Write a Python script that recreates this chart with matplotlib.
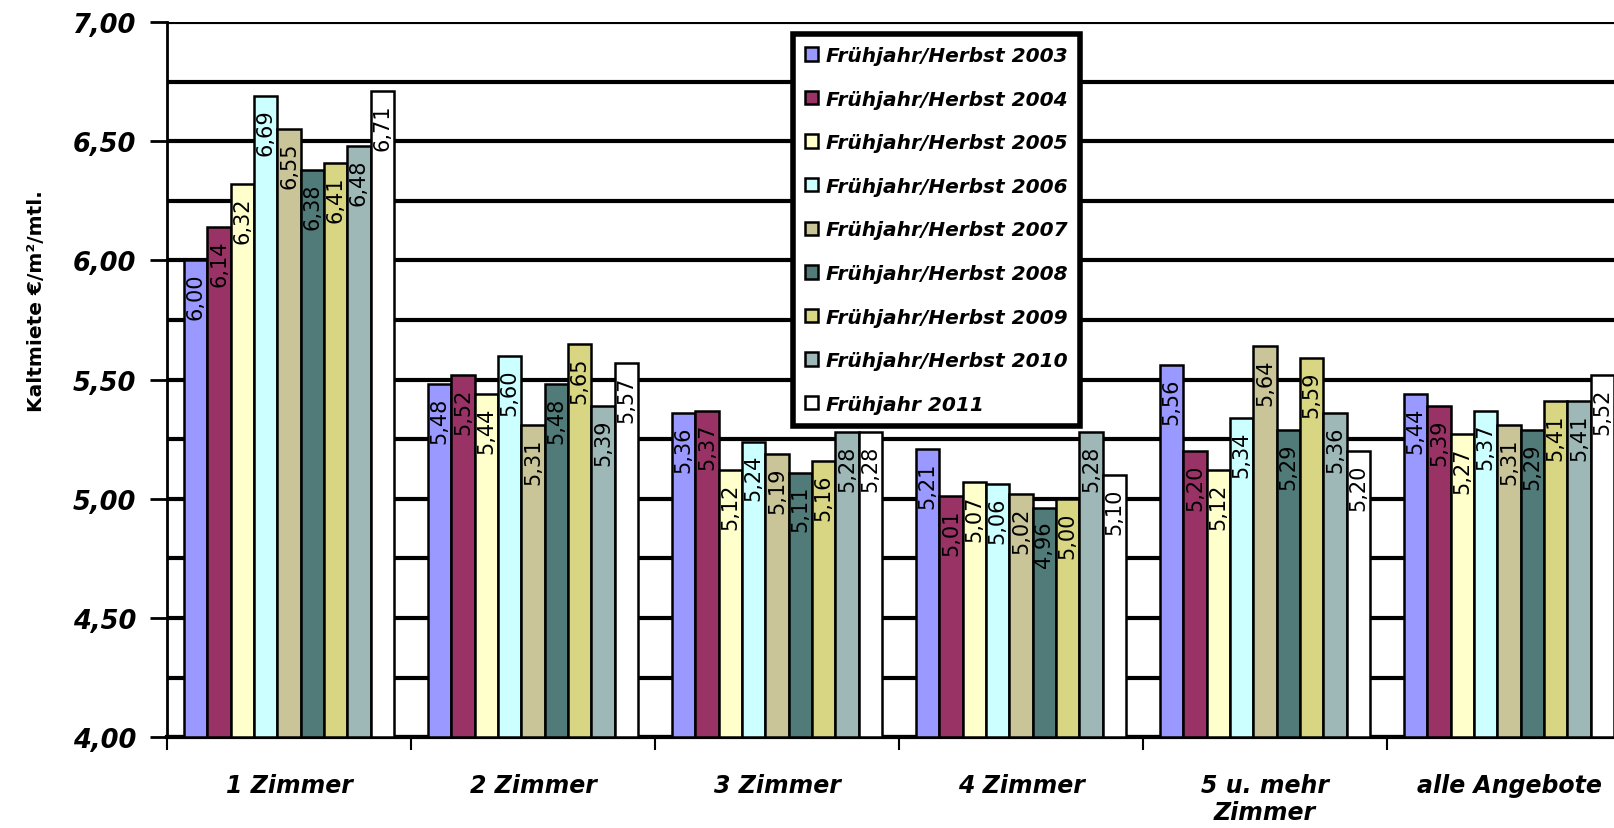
import matplotlib
matplotlib.use("Agg")
import matplotlib.pyplot as plt
import numpy as np

# Data
categories = ["1 Zimmer", "2 Zimmer", "3 Zimmer", "4 Zimmer", "5 u. mehr\nZimmer", "alle Angebote"]
series_names = ["Frühjahr/Herbst 2003", "Frühjahr/Herbst 2004", "Frühjahr/Herbst 2005",
                "Frühjahr/Herbst 2006", "Frühjahr/Herbst 2007", "Frühjahr/Herbst 2008",
                "Frühjahr/Herbst 2009", "Frühjahr/Herbst 2010", "Frühjahr 2011"]
v2003 = [6.00, 5.48, 5.36, 5.21, 5.56, 5.44]
v2004 = [6.14, 5.52, 5.37, 5.01, 5.20, 5.39]
v2005 = [6.32, 5.44, 5.12, 5.07, 5.12, 5.27]
v2006 = [6.69, 5.60, 5.24, 5.06, 5.34, 5.37]
v2007 = [6.55, 5.31, 5.19, 5.02, 5.64, 5.31]
v2008 = [6.38, 5.48, 5.11, 4.96, 5.29, 5.29]
v2009 = [6.41, 5.65, 5.16, 5.00, 5.59, 5.41]
v2010 = [6.48, 5.39, 5.28, 5.28, 5.36, 5.41]
v2011 = [6.71, 5.57, 5.28, 5.10, 5.20, 5.52]
all_values = [v2003, v2004, v2005, v2006, v2007, v2008, v2009, v2010, v2011]

colors = ["#9999FF", "#993366", "#FFFFCC", "#CCFFFF", "#C9C598",
          "#507B79", "#D8D682", "#9EB8B8", "#FFFFFF"]

fig = plt.figure(figsize=(16.14, 8.29), dpi=100)
# plot area runs off the right edge like in the original
ax = fig.add_axes([0.1035, 0.1095, 0.907, 0.8628])

n = len(all_values)
group_w = 0.86
bw = group_w / n
x = np.arange(len(categories))

for i, (vals, col, name) in enumerate(zip(all_values, colors, series_names)):
    pos = x - group_w / 2 + bw * (i + 0.5)
    ax.bar(pos, np.array(vals) - 4.0, bw, bottom=4.0, color=col, edgecolor="black",
           linewidth=1.8, label=name, zorder=3)
    for px, v in zip(pos, vals):
        ax.annotate(f"{v:.2f}".replace(".", ","), (px, v), xytext=(0, -9),
                    textcoords="offset points", rotation=90, ha="center", va="top",
                    fontsize=15, color="black", zorder=4)

ax.set_ylim(4.0, 7.0)
ax.set_xlim(-0.5, len(categories) - 0.5)

# y axis
ax.set_yticks(np.arange(4.0, 7.01, 0.5))
ax.set_yticks(np.arange(4.25, 7.0, 0.5), minor=True)
ax.set_yticklabels([f"{t:.2f}".replace(".", ",") for t in np.arange(4.0, 7.01, 0.5)],
                   fontsize=18.5, fontweight="bold", fontstyle="italic")
ax.tick_params(axis="y", which="major", length=12, width=2, direction="out", pad=10)
ax.tick_params(axis="y", which="minor", length=0)
ax.grid(axis="y", which="both", color="black", linewidth=3)
ax.set_axisbelow(True)

# x axis
ax.set_xticks(x)
ax.set_xticklabels(categories, fontsize=17, fontweight="bold", fontstyle="italic",
                   linespacing=1.15, va="top")
ax.set_xticks(np.arange(-0.5, len(categories)), minor=True)
ax.tick_params(axis="x", which="major", length=0, pad=26)
ax.tick_params(axis="x", which="minor", length=9, width=1.5, direction="out")

for s in ["top", "right"]:
    ax.spines[s].set_visible(False)
ax.spines["left"].set_linewidth(2)
ax.spines["bottom"].set_linewidth(3)

fig.text(37 / 1614, 1 - 301 / 829, "Kaltmiete €/m²/mtl.", rotation=90, ha="center",
         va="center", fontsize=14.5, fontweight="bold")

leg = ax.legend(loc="upper left", bbox_to_anchor=(793 / 1614, 1 - 35 / 829),
                bbox_transform=fig.transFigure, frameon=True, fancybox=False,
                prop={"size": 14.5, "weight": "bold", "style": "italic"},
                handlelength=0.65, handleheight=0.65, handletextpad=0.4,
                labelspacing=1.22, borderpad=0.6, borderaxespad=0)
leg.get_frame().set_edgecolor("black")
leg.get_frame().set_linewidth(4)
leg.get_frame().set_alpha(1)
leg.set_zorder(10)

fig.savefig("out.png", dpi=100)
